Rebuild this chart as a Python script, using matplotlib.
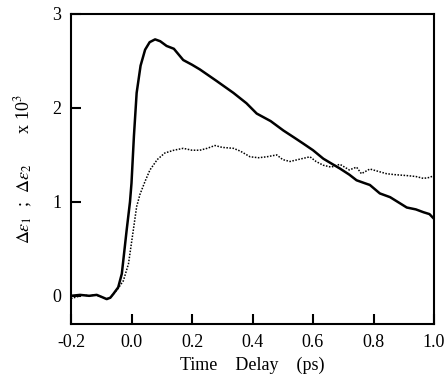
import matplotlib
matplotlib.use('Agg')
import matplotlib.pyplot as plt

# Solid curve: delta eps_1
t1 = [-0.2, -0.17, -0.14, -0.115, -0.1, -0.082, -0.07, -0.06, -0.044, -0.032, -0.016,
      -0.005, 0.0, 0.008, 0.017, 0.03, 0.045, 0.06, 0.078, 0.095, 0.116, 0.14, 0.171, 0.2, 0.226,
      0.28, 0.337, 0.38, 0.414, 0.46, 0.502, 0.54, 0.568, 0.6, 0.634, 0.66, 0.689, 0.72,
      0.744, 0.77, 0.788, 0.821, 0.855, 0.88, 0.91, 0.94, 0.965, 0.985, 1.0]
e1 = [0.0, 0.01, 0.0, 0.01, -0.01, -0.035, -0.02, 0.02, 0.09, 0.235, 0.70,
      1.0, 1.2, 1.7, 2.16, 2.45, 2.62, 2.7, 2.73, 2.71, 2.66, 2.63, 2.51, 2.46, 2.41,
      2.29, 2.16, 2.05, 1.94, 1.86, 1.76, 1.68, 1.62, 1.55, 1.46, 1.41, 1.355, 1.29,
      1.23, 1.2, 1.18, 1.09, 1.05, 1.0, 0.94, 0.92, 0.89, 0.87, 0.82]

# Dotted curve: delta eps_2
t2 = [-0.2, -0.18, -0.16, -0.14, -0.12, -0.1, -0.082, -0.07, -0.06, -0.044, -0.027,
      -0.01, 0.006, 0.017, 0.028, 0.045, 0.061, 0.085, 0.11, 0.14, 0.171, 0.2, 0.226,
      0.25, 0.276, 0.3, 0.337, 0.36, 0.392, 0.42, 0.447, 0.48, 0.5, 0.524, 0.55, 0.59,
      0.61, 0.634, 0.66, 0.689, 0.72, 0.744, 0.76, 0.788, 0.81, 0.843, 0.87, 0.91, 0.94,
      0.965, 0.985, 1.0]
e2 = [-0.03, -0.01, 0.01, 0.0, 0.01, -0.01, -0.03, -0.02, 0.02, 0.08, 0.16,
      0.34, 0.70, 0.95, 1.08, 1.22, 1.34, 1.45, 1.52, 1.55, 1.57, 1.55, 1.55,
      1.57, 1.60, 1.58, 1.57, 1.54, 1.48, 1.47, 1.48, 1.50, 1.45, 1.43, 1.45, 1.48,
      1.43, 1.39, 1.37, 1.40, 1.34, 1.37, 1.30, 1.35, 1.33, 1.30, 1.29, 1.28, 1.27,
      1.25, 1.26, 1.28]

xticks = [-0.2, 0.0, 0.2, 0.4, 0.6, 0.8, 1.0]
yticks = [0, 1, 2, 3]

plt.rcParams['font.family'] = ['Liberation Serif', 'DejaVu Serif']
plt.rcParams['mathtext.fontset'] = 'stix'

fig = plt.figure(figsize=(4.47, 3.83), dpi=100)
ax = fig.add_axes([71/447, 1 - 324/383, (434 - 71)/447, (324 - 14)/383])

ax.plot(t1, e1, color='black', lw=1.8)
ax.plot(t2, e2, color='black', lw=1.1, ls=(0, (1, 1)))

ax.set_xlim(-0.2, 1.0)
ax.set_ylim(-0.3, 3.0)
ax.set_xticks(xticks)
ax.set_xticklabels(['%.1f' % v for v in xticks])
ax.set_yticks(yticks)
ax.tick_params(direction='in', length=7, width=1.5, labelsize=13, pad=7)
for s in ax.spines.values():
    s.set_linewidth(1.5)

ax.set_xlabel('Time    Delay    (ps)', fontsize=13, labelpad=4)
ax.set_ylabel(r'$\Delta\varepsilon_1$  ;  $\Delta\varepsilon_2$       x 10$^3$', fontsize=13, labelpad=12)

fig.savefig('out.png', dpi=100)
